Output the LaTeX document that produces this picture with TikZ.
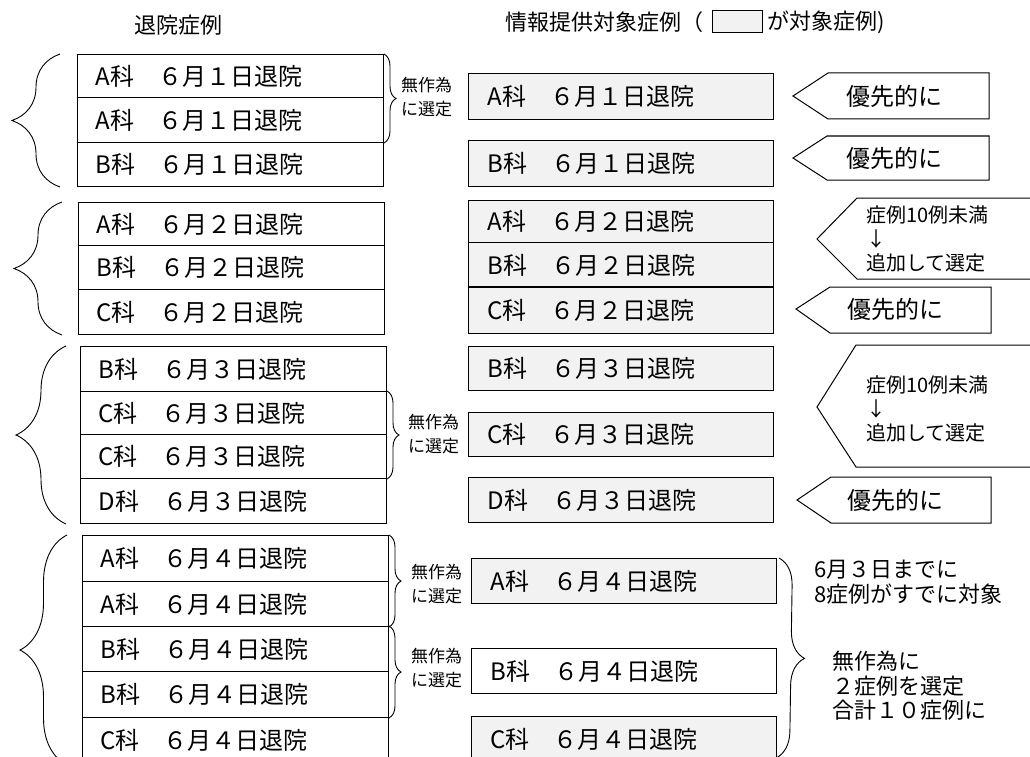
\documentclass[tikz,border=0pt]{standalone}
\usepackage{fontspec}
\setmainfont{Noto Sans CJK JP}
\usetikzlibrary{decorations.pathreplacing}
\newcommand\boxfnt{\fontsize{24}{26}\selectfont}
\newcommand\headfnt{\fontsize{22}{26}\selectfont}
\newcommand\smfnt{\fontsize{17}{24}\selectfont}
\newcommand\notefnt{\fontsize{20}{24}\selectfont}
\newcommand\rtfnt{\fontsize{22}{24.5}\selectfont}
\begin{document}
\begin{tikzpicture}[x=1pt,y=-1pt,
  lrow/.style={draw, line width=1pt, rectangle, anchor=north west, minimum width=306pt,
    text width=270pt, inner xsep=18pt, inner ysep=0pt, align=left, font=\boxfnt},
  rrow/.style={draw, line width=1pt, rectangle, anchor=north west, minimum width=305pt,
    text width=267pt, inner xsep=19pt, inner ysep=0pt, align=left, font=\boxfnt},
  target/.style={fill=black!5},
  bigbrace/.style={decorate, decoration={brace, amplitude=#1}, line width=0.9pt},
  smbrace/.style={decorate, decoration={brace, amplitude=12pt}, line width=0.9pt},
  arrowshape/.style={draw, line width=1pt},
  note/.style={anchor=west, align=left, font=\smfnt, inner sep=0pt},
]
\useasboundingbox (0,0) rectangle (1030,757);
\clip (0,0) rectangle (1030,757);

% headers
\node[font=\headfnt] (h1) at (178,25) {退院症例};
\node[font=\headfnt, anchor=west, inner sep=0pt] (h2) at (505,22) {情報提供対象症例（};
\node[draw, line width=0.8pt, target, minimum width=50pt, minimum height=22pt, inner sep=0pt] (lg) at (737,21) {};
\node[font=\headfnt, anchor=west, inner sep=0pt] (h3) at (767,22) {が対象症例)};

% ---------- left column ----------
% group 1
\node[lrow, minimum height=43pt] (l1a) at (77,54) {A科　６月１日退院};
\node[lrow, minimum height=45pt] (l1b) at (77,97) {A科　６月１日退院};
\node[lrow, minimum height=44pt] (l1c) at (77,142) {B科　６月１日退院};
% group 2
\node[lrow, minimum height=43pt] (l2a) at (78,202) {A科　６月２日退院};
\node[lrow, minimum height=44pt] (l2b) at (78,245) {B科　６月２日退院};
\node[lrow, minimum height=45pt] (l2c) at (78,289) {C科　６月２日退院};
% group 3
\node[lrow, minimum height=45pt] (l3a) at (80,346) {B科　６月３日退院};
\node[lrow, minimum height=43pt] (l3b) at (80,391) {C科　６月３日退院};
\node[lrow, minimum height=44pt] (l3c) at (80,434) {C科　６月３日退院};
\node[lrow, minimum height=45pt] (l3d) at (80,478) {D科　６月３日退院};
% group 4
\node[lrow, minimum height=46pt] (l4a) at (82,535) {A科　６月４日退院};
\node[lrow, minimum height=45pt] (l4b) at (82,581) {A科　６月４日退院};
\node[lrow, minimum height=45pt] (l4c) at (82,626) {B科　６月４日退院};
\node[lrow, minimum height=46pt] (l4d) at (82,671) {B科　６月４日退院};
\node[lrow, minimum height=46pt] (l4e) at (82,717) {C科　６月４日退院};

% big left braces
\draw[bigbrace=48pt] ([xshift=-17pt]l1c.south west) -- ([xshift=-17pt]l1a.north west);
\draw[bigbrace=48pt] ([xshift=-16pt]l2c.south west) -- ([xshift=-16pt]l2a.north west);
\draw[bigbrace=50pt] ([xshift=-14pt]l3d.south west) -- ([xshift=-14pt]l3a.north west);
\coordinate (b4bot) at (67,765);
\draw[bigbrace=47pt] (b4bot) -- ([xshift=-15pt]l4a.north west);

% small braces (random selection)
\draw[smbrace] (l1a.north east) -- (l1b.south east);
\node[note] (n1) at (401,97) {無作為\\に選定};
\draw[smbrace] (l3b.north east) -- (l3c.south east);
\node[note] (n2) at (408,434) {無作為\\に選定};
\draw[smbrace] (l4a.north east) -- (l4b.south east);
\node[note] (n3) at (411,584) {無作為\\に選定};
\draw[smbrace] (l4c.north east) -- (l4d.south east);
\node[note] (n4) at (411,668) {無作為\\に選定};

% ---------- right column ----------
\node[rrow, target, minimum height=46pt] (r1) at (468,73) {A科　６月１日退院};
\node[rrow, target, minimum height=46pt] (r2) at (468,140) {B科　６月１日退院};
\node[rrow, target, minimum height=42pt] (r3a) at (468,200) {A科　６月２日退院};
\node[rrow, target, minimum height=45pt] (r3b) at (468,242) {B科　６月２日退院};
\node[rrow, target, minimum height=46pt] (r3c) at (468,287) {C科　６月２日退院};
\draw[line width=2pt] (r3c.north west) -- (r3c.north east);
\node[rrow, target, minimum height=44pt] (r4) at (468,346) {B科　６月３日退院};
\node[rrow, target, minimum height=44pt] (r5) at (468,412) {C科　６月３日退院};
\node[rrow, target, minimum height=45pt] (r6) at (468,477) {D科　６月３日退院};
\node[rrow, target, minimum height=45pt] (r7) at (471,558) {A科　６月４日退院};
\node[rrow, minimum height=45pt] (r8) at (471,648) {B科　６月４日退院};
\node[rrow, target, minimum height=46pt] (r9) at (471,716) {C科　６月４日退院};

% right brace for day 4
\coordinate (rb4) at (776,758);
\draw[bigbrace=27pt] ([xshift=2pt]r7.north east) -- (rb4);

% ---------- pentagon labels ----------
\draw[arrowshape] (793,96) -- (828,73) -- (989,73) -- (989,119) -- (828,119) -- cycle;
\node[font=\boxfnt] (p1) at (894,96) {優先的に};
\draw[arrowshape] (793,158) -- (827,136) -- (989,136) -- (989,180) -- (827,180) -- cycle;
\node[font=\boxfnt] (p2) at (894,158) {優先的に};
\draw[arrowshape] (817,239) -- (857,198) -- (1040,198) -- (1040,279) -- (857,279) -- cycle;
\node[anchor=west, align=left, font=\notefnt, inner sep=0pt] (p3) at (866,239) {症例10例未満\\↓\\追加して選定};
\draw[arrowshape] (796,309) -- (830,287) -- (991,287) -- (991,333) -- (830,333) -- cycle;
\node[font=\boxfnt] (p4) at (895,309) {優先的に};
\draw[arrowshape] (817,407) -- (856,345) -- (1040,345) -- (1040,467) -- (856,467) -- cycle;
\node[anchor=west, align=left, font=\notefnt, inner sep=0pt] (p5) at (866,409) {症例10例未満\\↓\\追加して選定};
\draw[arrowshape] (797,500) -- (831,477) -- (991,477) -- (991,523) -- (831,523) -- cycle;
\node[font=\boxfnt] (p6) at (895,500) {優先的に};

% ---------- bottom right text ----------
\node[anchor=west, align=left, font=\rtfnt, inner sep=0pt] (t1) at (814,582) {6月３日までに\\8症例がすでに対象};
\node[anchor=west, align=left, font=\rtfnt, inner sep=0pt] (t2) at (832,686) {無作為に\\ ２症例を選定\\合計１０症例に};
\end{tikzpicture}
\end{document}
